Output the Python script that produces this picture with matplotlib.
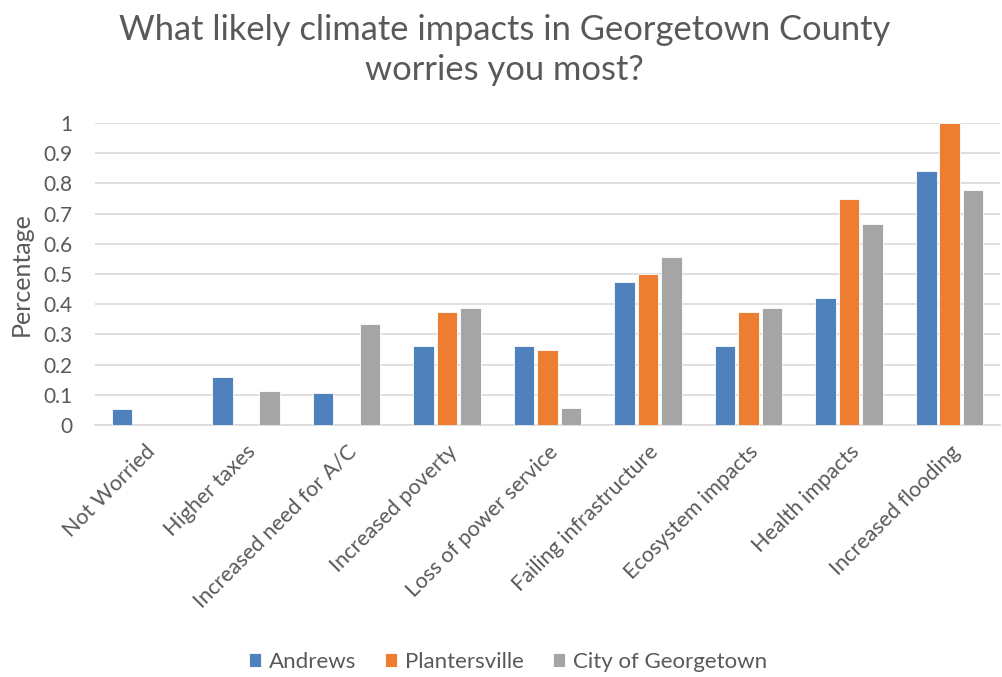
import numpy as np
import matplotlib.pyplot as plt

plt.rcParams['font.family'] = ['Lato', 'DejaVu Sans']

categories = ['Not Worried', 'Higher taxes', 'Increased need for A/C', 'Increased poverty',
              'Loss of power service', 'Failing infrastructure', 'Ecosystem impacts',
              'Health impacts', 'Increased flooding']
andrews = [0.053, 0.158, 0.105, 0.263, 0.263, 0.474, 0.263, 0.421, 0.842]
plantersville = [0, 0, 0, 0.375, 0.25, 0.5, 0.375, 0.75, 1.0]
georgetown = [0, 0.111, 0.333, 0.389, 0.056, 0.556, 0.389, 0.667, 0.778]
series_names = ['Andrews', 'Plantersville', 'City of Georgetown']
colors = ['#4F81BD', '#ED7D31', '#A5A5A5']

text_col = '#595959'

fig = plt.figure(figsize=(10.03, 6.77), dpi=100)
ax = fig.add_axes([95 / 1003, 1 - 425 / 677, 905 / 1003, 302 / 677])

x = np.arange(len(categories))
step = 0.233
for i, (vals, name) in enumerate(zip([andrews, plantersville, georgetown], series_names)):
    ax.bar(x + (i - 1) * step, vals, width=0.205, color=colors[i], label=name,
           edgecolor='white', linewidth=0.6, zorder=3)

ax.set_xlim(-0.5, len(categories) - 0.5)
ax.set_ylim(0, 1)
ax.set_yticks(np.arange(0, 1.01, 0.1))
ax.set_yticklabels(['0'] + [f'{v:.1f}' for v in np.arange(0.1, 0.95, 0.1)] + ['1'])
ax.yaxis.grid(True, color='#d9d9d9', linewidth=1.2, zorder=0)
ax.set_axisbelow(True)
for s in ['top', 'right', 'left']:
    ax.spines[s].set_visible(False)
ax.spines['bottom'].set_color('#d9d9d9')
ax.spines['bottom'].set_linewidth(1.2)
ax.tick_params(axis='both', length=0, colors=text_col)
ax.tick_params(axis='y', pad=16, labelsize=15)
ax.set_xticks(x)
ax.set_xticklabels(categories, rotation=45, ha='right', rotation_mode='anchor', fontsize=15.5)
ax.tick_params(axis='x', pad=12)
ax.set_ylabel('Percentage', color=text_col, fontsize=18, labelpad=8)

fig.text(0.503, 0.98, 'What likely climate impacts in Georgetown County\nworries you most?',
         ha='center', va='top', fontsize=24.8, color=text_col, linespacing=1.32)

ax.legend(loc='center', bbox_to_anchor=(508 / 1003, 1 - 662 / 677), bbox_transform=fig.transFigure,
          ncol=3, frameon=False, fontsize=16, handlelength=0.55, handleheight=0.55,
          handletextpad=0.35, columnspacing=1.3, labelcolor=text_col)

fig.savefig('out.png', dpi=100)
